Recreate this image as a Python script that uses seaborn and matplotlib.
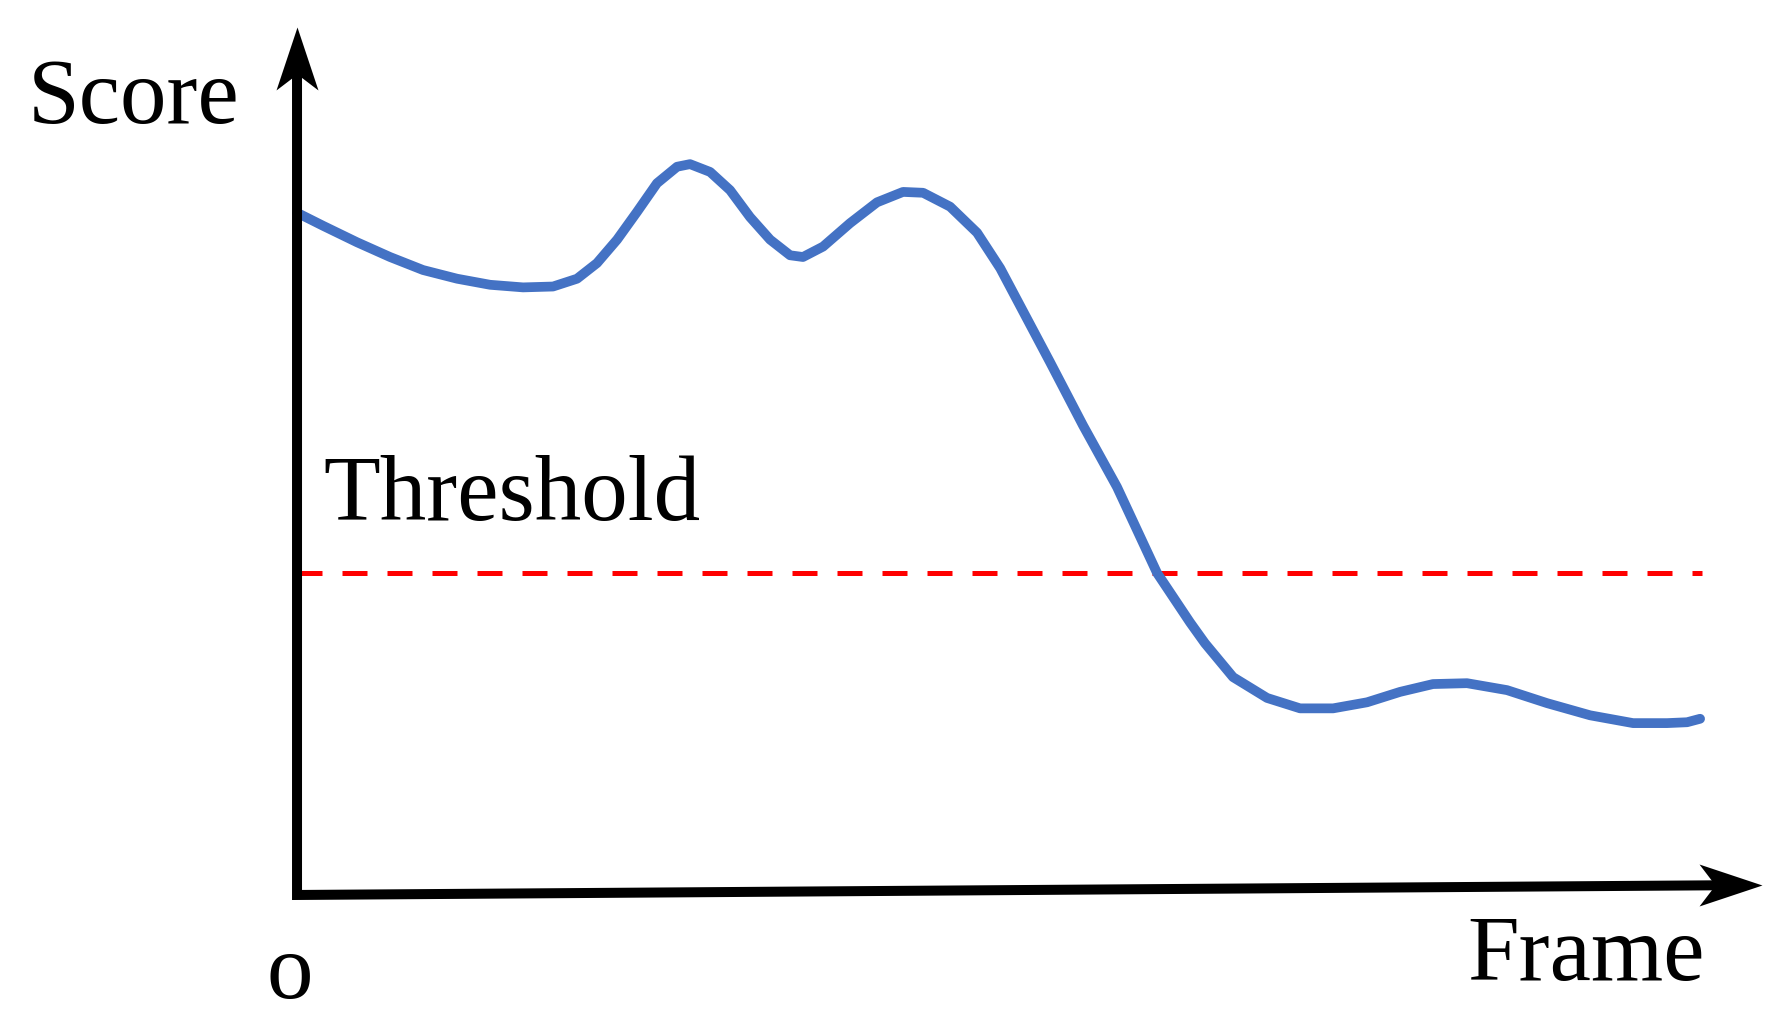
import numpy as np
import pandas as pd
import matplotlib
matplotlib.use("Agg")
import matplotlib.pyplot as plt
import seaborn as sns

# score curve (frame 0..100, score 0..1)
frame = [0, 1.85, 4.27, 6.62, 8.97, 11.39, 13.74, 16.09, 18.22, 19.93, 21.35,
         22.78, 24.20, 25.62, 27.05, 27.97, 29.40, 30.82, 32.24, 33.67, 35.09,
         36.01, 37.44, 39.36, 41.28, 43.13, 44.56, 46.48, 48.40, 50.05, 51.23,
         53.59, 55.94, 58.36, 61.21, 63.56, 64.62, 66.62, 69.04, 71.39, 73.74,
         76.16, 78.51, 80.85, 83.27, 86.12, 88.97, 92.03, 95.09, 97.51, 98.93,
         99.86]
score = [0.786, 0.771, 0.752, 0.735, 0.720, 0.710, 0.703, 0.700, 0.701, 0.710,
         0.728, 0.755, 0.787, 0.820, 0.839, 0.842, 0.833, 0.812, 0.781, 0.755,
         0.737, 0.735, 0.747, 0.774, 0.798, 0.810, 0.809, 0.793, 0.763, 0.722,
         0.686, 0.614, 0.541, 0.470, 0.371, 0.314, 0.290, 0.251, 0.227, 0.215,
         0.215, 0.222, 0.234, 0.243, 0.244, 0.236, 0.221, 0.207, 0.198, 0.198,
         0.199, 0.203]
threshold = 0.371

df = pd.DataFrame({'frame': frame, 'score': score})

sns.set_style("white")
plt.rcParams['font.family'] = ['Liberation Serif', 'DejaVu Serif']

fig = plt.figure(figsize=(17.91, 10.23), dpi=100)
ax = fig.add_axes([0, 0, 1, 1])
ax.set_xlim(-21.14, 106.33)
ax.set_ylim(-0.1475, 1.0311)
ax.axis('off')

# threshold line
ax.plot([0, 100], [threshold, threshold], color='#ff0000', lw=3.6,
        dashes=(5.0, 4.0), zorder=2)

# score curve
sns.lineplot(data=df, x='frame', y='score', ax=ax, sort=False, estimator=None,
             color='#4472c4', lw=7, zorder=3,
             solid_capstyle='round', solid_joinstyle='round')

# axes: shafts + stealth style heads
ax.plot([0, 0, 101.5], [0.955, 0, 0.0112], color='black', lw=7.2,
        solid_joinstyle='miter', solid_capstyle='butt', zorder=4)
head_up = [(0, 0), (-21, -63), (0, -47), (21, -63), (0, 0)]
head_right = [(0, 0), (-63, 21), (-47, 0), (-63, -21), (0, 0)]
ax.plot([0], [1.0], marker=head_up, ms=90.7, mfc='black', mew=0, zorder=5)
ax.plot([104.27], [0.0115], marker=head_right, ms=90.7, mfc='black', mew=0,
        zorder=5)

fs = 67
txt = dict(fontsize=fs, va='baseline', ha='left', color='black')
ax.text(-19.15, 0.889, 'Score', **txt)
ax.text(1.85, 0.432, 'Threshold', **txt)
ax.text(83.3, -0.098, 'Frame', **txt)
ax.text(-2.14, -0.119, 'o', **txt)

fig.savefig('out.png', dpi=100)
